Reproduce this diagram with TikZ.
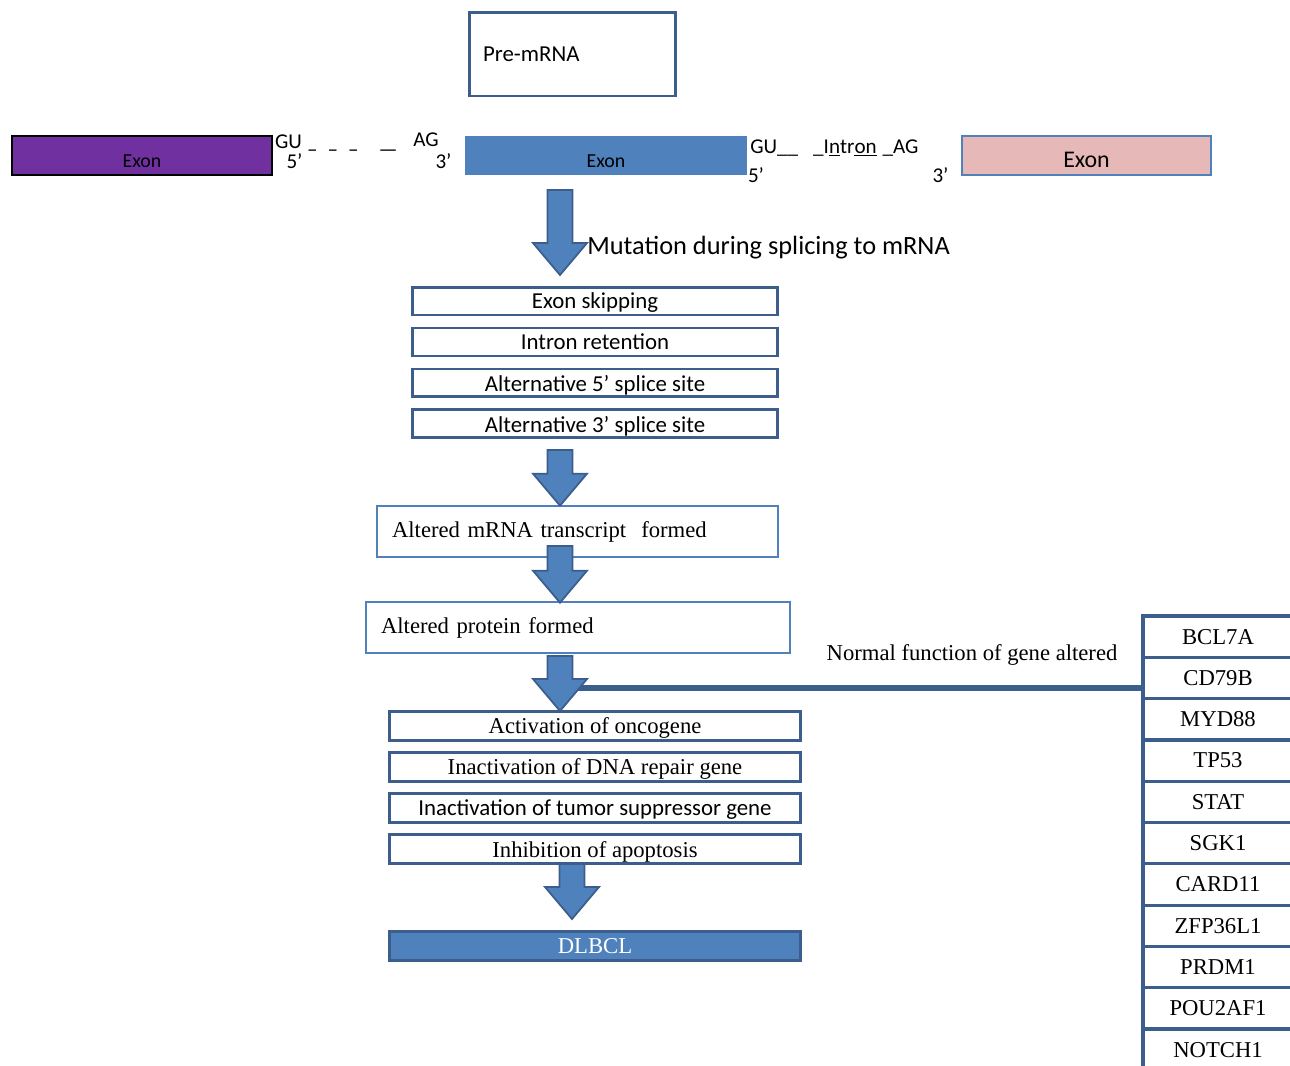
\documentclass[tikz,border=0pt]{standalone}
\usepackage{fontspec}
\setmainfont{Liberation Serif}
\newfontfamily\calibri{Carlito}
\usepackage{tikz}
\usetikzlibrary{positioning, calc}
\definecolor{boxblue}{HTML}{3B5E8C}
\definecolor{midblue}{HTML}{4F81BD}
\definecolor{exonpurple}{HTML}{7030A0}
\definecolor{exonpink}{HTML}{E6B9B8}
\tikzset{splice box/.style={draw=boxblue, line width=1.7pt, fill=white, minimum width=7.32cm, minimum height=0.56cm, inner sep=0pt, outer sep=0pt, text depth=0pt, font=\calibri\fontsize{13}{15}\selectfont}}
\tikzset{altered box/.style={draw=midblue, line width=1.5pt, minimum height=1.02cm, inner xsep=0.3cm, align=left, font=\fontsize{12.9}{15}\selectfont}}
\tikzset{effect box/.style={draw=boxblue, line width=1.7pt, fill=white, minimum width=8.24cm, minimum height=0.58cm, inner sep=0pt, outer sep=0pt, text depth=0pt, font=\fontsize{12.9}{15}\selectfont}}
\tikzset{exon/.style={minimum height=0.78cm, inner sep=0pt, font=\calibri\fontsize{11.3}{13}\selectfont}}
\tikzset{site/.style={inner sep=0pt, font=\calibri\fontsize{12}{14}\selectfont}}
\tikzset{gene/.style={draw=boxblue, line width=1.8pt, minimum width=3cm, minimum height=0.826cm, inner sep=0pt, font=\fontsize{12.9}{15}\selectfont}}
\tikzset{fat arrow/.style={fill=midblue, draw=boxblue, line width=1pt, line join=miter}}
\newcommand{\lowered}[1]{\smash{\raisebox{-0.24cm}{#1}}}
\newcommand{\fatarrow}[3]{% start, target node, gap above target
  \draw[fat arrow] let \p1=(#1), \p2=(#2.north) in
    (\x1-0.25cm,\y1) -- (\x1-0.25cm,\y2+#3+0.64cm) -- (\x1-0.54cm,\y2+#3+0.64cm) -- (\x1,\y2+#3)
    -- (\x1+0.54cm,\y2+#3+0.64cm) -- (\x1+0.25cm,\y2+#3+0.64cm) -- (\x1+0.25cm,\y1) -- cycle;}

\begin{document}
\begin{tikzpicture}[x=0.02cm, y=-0.02cm]
\useasboundingbox (0,0) rectangle (1290,1065);

% pre-mRNA with exons and introns
\node[draw=boxblue, line width=1.7pt, minimum height=1.68cm, text width=3.58cm, inner xsep=0.28cm, align=left, font=\calibri\fontsize{13}{15}\selectfont] (premrna) at (572.5,54) {Pre-mRNA};
\node[exon, fill=exonpurple, draw=black, line width=0.8pt, minimum width=5.2cm] (exonA) at (142,155.5) {\lowered{Exon}};
\node[exon, fill=midblue, minimum width=5.64cm] (exonB) at (606,155.5) {\lowered{Exon}};
\node[exon, fill=exonpink, draw=midblue, line width=0.8pt, minimum width=4.98cm, font=\calibri\fontsize{13.6}{15}\selectfont] (exonC) at (1086.5,155.5) {\lowered{Exon}};
\node[site] (gu1) at (288.5,141.5) {GU};
\node[site] (five1) at (294.5,161) {5’};
\node[site] (dash1) at (352.5,153) {–\hspace{0.2cm}–\hspace{0.2cm}–\hspace{0.4cm}—};
\node[site] (ag1) at (426,139.5) {AG};
\node[site] (three1) at (443.5,161) {3’};
\node[site, anchor=base west] (intron2) at (750,153) {GU\_\_\hspace{0.3cm}\_I\underline{n}tr\underline{o}\underline{n}\hspace{0.12cm}\_AG};
\node[site] (five2) at (756,175) {5’};
\node[site] (three2) at (940.5,175) {3’};

\node[anchor=west, inner sep=0pt, font=\calibri\fontsize{15}{17}\selectfont] (mutation) at (587,248) {Mutation during splicing to mRNA};

% splicing events
\node[splice box] (skip) at (595,301) {Exon skipping};
\node[splice box, below=0.26cm of skip] (retain) {Intron retention};
\node[splice box, below=0.26cm of retain] (alt5) {Alternative 5’ splice site};
\node[splice box, below=0.26cm of alt5] (alt3) {Alternative 3’ splice site};

\node[altered box, text width=7.42cm] (mrna) at (577.5,531.5) {Altered mRNA transcript\ \ formed};
\node[altered box, text width=7.88cm] (protein) at (578,627.5) {Altered protein formed};

% effects
\node[effect box] (onco) at (595,725.5) {Activation of oncogene};
\node[effect box, below=0.246cm of onco] (repair) {Inactivation of DNA repair gene};
\node[effect box, below=0.246cm of repair, font=\calibri\fontsize{13}{15}\selectfont] (suppressor) {Inactivation of tumor suppressor gene};
\node[effect box, below=0.246cm of suppressor] (apoptosis) {Inhibition of apoptosis};
\node[effect box, fill=midblue, text=white] (dlbcl) at (595,945.5) {DLBCL};

% genes
\node[inner sep=0pt, font=\fontsize{12.9}{15}\selectfont] (normal) at (972,655) {Normal function of gene altered};
\foreach \g [count=\i] in {BCL7A,CD79B,MYD88,TP53,STAT,SGK1,CARD11,ZFP36L1,PRDM1,POU2AF1,NOTCH1}
  \node[gene] (g\i) at (1218,{595.35+41.3*\i}) {\g};

\coordinate (hook) at (575,688);
\draw[boxblue, line width=3.4pt] (hook) -- (hook -| g2.west);

% block arrows
\coordinate (a1) at (560,190);
\coordinate (a2) at (560,450);
\coordinate (a3) at (560,546);
\coordinate (a4) at (560,656);
\coordinate (a5) at (572,864);
\fatarrow{a1}{skip}{0.24cm}
\fatarrow{a2}{mrna}{-0.02cm}
\fatarrow{a3}{protein}{-0.04cm}
\fatarrow{a4}{onco}{0cm}
\fatarrow{a5}{dlbcl}{0.24cm}
\end{tikzpicture}
\end{document}
